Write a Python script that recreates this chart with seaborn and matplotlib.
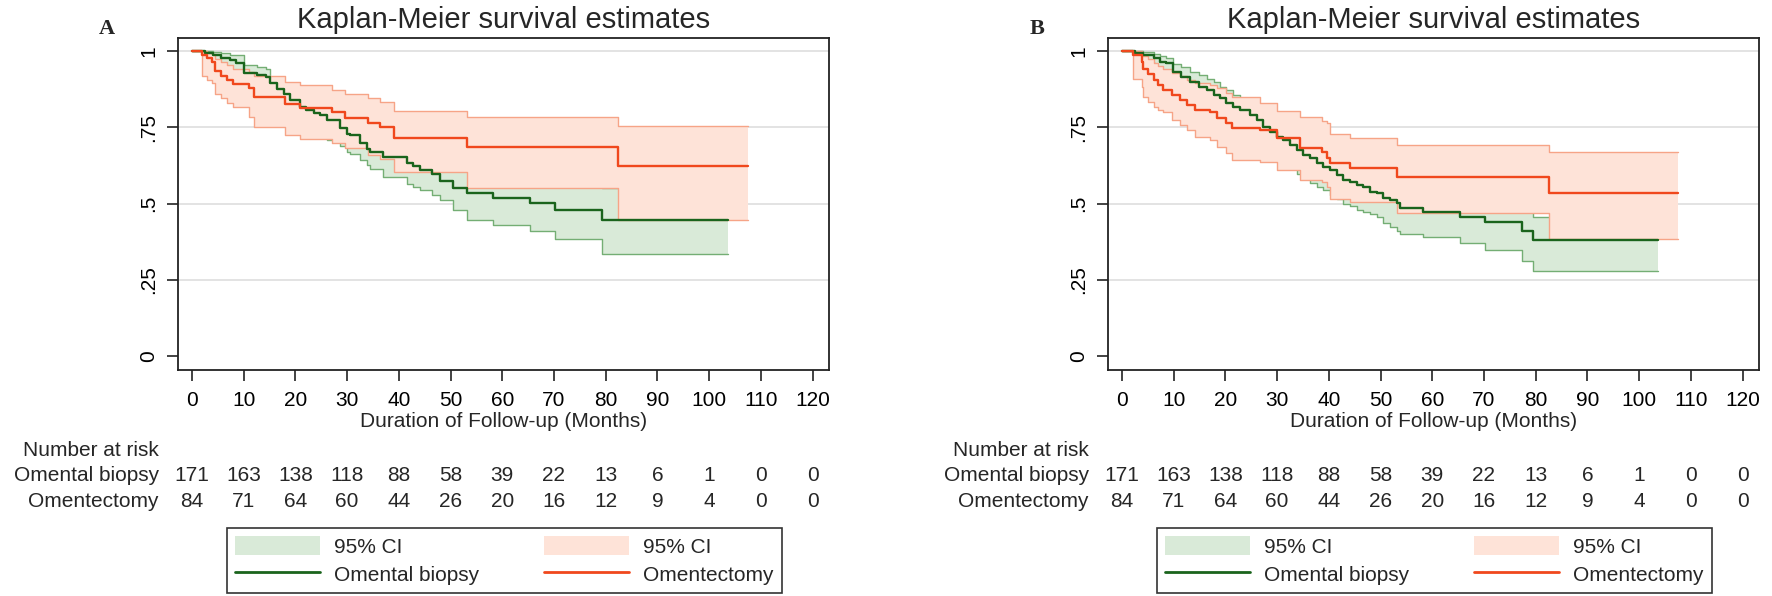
import numpy as np
import pandas as pd
import matplotlib
matplotlib.use('Agg')
import matplotlib.pyplot as plt
import matplotlib.transforms as mtransforms
from matplotlib.patches import Patch
from matplotlib.lines import Line2D
import seaborn as sns

sns.set_theme(style='white')
plt.rcParams['font.family'] = ['Liberation Sans', 'DejaVu Sans']

# ---- Panel A: Omental biopsy (KM estimate and 95% CI) ----
a_bio_t = [0, 2.5, 4.1, 5.7, 7.4, 8.5, 10.0, 12.5, 14.4, 15.1, 16.5, 17.7, 19.0, 20.9, 22.0, 23.5,
           24.8, 26.1, 28.6, 29.9, 30.6, 32.5, 33.8, 34.4, 37.0, 41.5, 42.8, 44.1, 46.4, 48.0, 50.5,
           53.1, 58.3, 65.3, 70.2, 79.3]
a_bio_s = [1.0, 0.994, 0.988, 0.979, 0.970, 0.962, 0.930, 0.922, 0.916, 0.894, 0.876, 0.861, 0.840,
           0.818, 0.807, 0.798, 0.790, 0.774, 0.747, 0.730, 0.725, 0.698, 0.680, 0.670, 0.654, 0.632,
           0.625, 0.612, 0.596, 0.575, 0.552, 0.534, 0.520, 0.501, 0.479, 0.445]
a_bio_lo = [1.0, 0.985, 0.965, 0.950, 0.935, 0.925, 0.885, 0.875, 0.868, 0.845, 0.825, 0.810, 0.787,
            0.765, 0.752, 0.742, 0.733, 0.708, 0.690, 0.670, 0.662, 0.642, 0.627, 0.615, 0.588, 0.565,
            0.556, 0.545, 0.530, 0.512, 0.480, 0.446, 0.430, 0.411, 0.383, 0.335]
a_bio_hi = [1.0, 1.0, 0.998, 0.993, 0.986, 0.986, 0.954, 0.948, 0.940, 0.916, 0.905, 0.895, 0.880,
            0.860, 0.850, 0.843, 0.836, 0.820, 0.800, 0.785, 0.780, 0.755, 0.740, 0.730, 0.715, 0.695,
            0.690, 0.678, 0.660, 0.640, 0.625, 0.610, 0.600, 0.585, 0.565, 0.553]
a_bio_end = 103.6

# ---- Panel A: Omentectomy ----
a_om_t = [0, 2.0, 3.0, 3.8, 4.4, 5.7, 6.7, 8.0, 11.0, 11.9, 18.0, 20.9, 27.0, 29.6, 34.0, 36.4, 39.0,
          53.1, 82.3]
a_om_s = [1.0, 0.988, 0.976, 0.964, 0.935, 0.920, 0.905, 0.891, 0.878, 0.850, 0.826, 0.815, 0.800,
          0.782, 0.766, 0.752, 0.716, 0.686, 0.623]
a_om_lo = [1.0, 0.920, 0.905, 0.894, 0.861, 0.845, 0.830, 0.818, 0.785, 0.750, 0.725, 0.711, 0.698,
           0.681, 0.659, 0.645, 0.603, 0.553, 0.446]
a_om_hi = [1.0, 1.0, 0.995, 0.990, 0.975, 0.965, 0.954, 0.943, 0.932, 0.918, 0.899, 0.889, 0.872,
           0.861, 0.845, 0.834, 0.804, 0.785, 0.755]
a_om_end = 107.5

# ---- Panel B: Omental biopsy ----
b_bio_t = [0, 2.5, 4.1, 6.1, 7.4, 8.5, 9.9, 11.5, 13.2, 14.8, 16.4, 17.7, 19.0, 20.2, 21.5, 22.8,
           24.8, 26.1, 27.3, 28.6, 29.9, 31.2, 32.5, 33.8, 35.1, 36.4, 37.7, 38.9, 40.2, 41.5, 42.8,
           44.1, 45.4, 46.7, 48.0, 49.3, 50.5, 51.8, 53.1, 53.8, 58.3, 65.3, 70.2, 77.3, 79.4]
b_bio_s = [1.0, 0.994, 0.987, 0.976, 0.965, 0.960, 0.932, 0.916, 0.899, 0.883, 0.872, 0.856, 0.845,
           0.829, 0.818, 0.807, 0.790, 0.774, 0.752, 0.736, 0.719, 0.709, 0.692, 0.676, 0.660, 0.649,
           0.632, 0.621, 0.610, 0.594, 0.578, 0.572, 0.561, 0.556, 0.540, 0.534, 0.518, 0.512, 0.501,
           0.485, 0.474, 0.457, 0.440, 0.411, 0.382]
b_bio_lo = [1.0, 0.985, 0.965, 0.945, 0.930, 0.925, 0.890, 0.870, 0.850, 0.835, 0.820, 0.800, 0.790,
            0.772, 0.760, 0.750, 0.730, 0.714, 0.690, 0.675, 0.657, 0.640, 0.620, 0.598, 0.580, 0.568,
            0.556, 0.545, 0.528, 0.515, 0.500, 0.493, 0.480, 0.474, 0.465, 0.455, 0.437, 0.425, 0.410,
            0.400, 0.390, 0.372, 0.347, 0.313, 0.279]
b_bio_hi = [1.0, 1.0, 0.997, 0.990, 0.985, 0.979, 0.957, 0.949, 0.932, 0.921, 0.910, 0.899, 0.883,
            0.872, 0.856, 0.840, 0.831, 0.818, 0.800, 0.785, 0.772, 0.763, 0.745, 0.730, 0.715, 0.705,
            0.690, 0.680, 0.668, 0.652, 0.637, 0.632, 0.620, 0.615, 0.600, 0.595, 0.580, 0.575, 0.565,
            0.550, 0.540, 0.525, 0.510, 0.480, 0.455]
b_bio_end = 103.6

# ---- Panel B: Omentectomy ----
b_om_t = [0, 2.2, 3.8, 4.1, 5.1, 6.1, 7.0, 8.0, 9.6, 11.2, 12.5, 14.1, 17.0, 18.3, 20.2, 21.2, 26.7,
          29.9, 34.4, 38.6, 39.6, 40.2, 44.1, 53.1, 82.5]
b_om_s = [1.0, 0.988, 0.965, 0.940, 0.925, 0.905, 0.889, 0.872, 0.856, 0.840, 0.823, 0.807, 0.800,
          0.780, 0.763, 0.747, 0.741, 0.714, 0.681, 0.670, 0.650, 0.632, 0.616, 0.589, 0.536]
b_om_lo = [1.0, 0.910, 0.883, 0.850, 0.834, 0.818, 0.808, 0.801, 0.774, 0.758, 0.741, 0.719, 0.709,
           0.687, 0.665, 0.643, 0.638, 0.610, 0.578, 0.572, 0.555, 0.515, 0.505, 0.468, 0.383]
b_om_hi = [1.0, 1.0, 0.995, 0.985, 0.975, 0.962, 0.952, 0.940, 0.930, 0.918, 0.905, 0.894, 0.890,
           0.878, 0.862, 0.850, 0.830, 0.805, 0.785, 0.772, 0.763, 0.730, 0.714, 0.692, 0.668]
b_om_end = 107.6

# ---- Number at risk table ----
risk_times = [0, 10, 20, 30, 40, 50, 60, 70, 80, 90, 100, 110, 120]
risk_biopsy = [171, 163, 138, 118, 88, 58, 39, 22, 13, 6, 1, 0, 0]
risk_omentectomy = [84, 71, 64, 60, 44, 26, 20, 16, 12, 9, 4, 0, 0]

group_names = ['Omental biopsy', 'Omentectomy']
y_ticks = [0, 0.25, 0.5, 0.75, 1]
y_tick_labels = ['0', '.25', '.5', '.75', '1']

GREEN_LINE = '#1a641c'
GREEN_FILL = '#d9ead8'
GREEN_EDGE = '#74ae74'
ORANGE_LINE = '#f0481d'
ORANGE_FILL = '#fee3d8'
ORANGE_EDGE = '#f6a487'
FS = 15

fig = plt.figure(figsize=(17.72, 5.96), dpi=100)


def draw_panel(left, letter, groups):
    ax = fig.add_axes([left, 0.3792, 0.3677, 0.557])

    # grid lines at the y ticks above zero
    for yv in y_ticks[1:]:
        ax.axhline(yv, color='#dedede', lw=1.2, zorder=0)

    # confidence bands first, omentectomy band drawn over biopsy band
    z = 2
    for g in groups:
        t = g['t'] + [g['end']]
        lo = g['lo'] + [g['lo'][-1]]
        hi = g['hi'] + [g['hi'][-1]]
        ax.fill_between(t, lo, hi, step='post', color=g['fill'], lw=0, zorder=z)
        ax.step(t, lo, where='post', color=g['edge'], lw=1.0, zorder=z + 0.1)
        ax.step(t, hi, where='post', color=g['edge'], lw=1.0, zorder=z + 0.1)
        z += 0.5

    # survival curves
    for g in groups:
        df = pd.DataFrame({'time': g['t'] + [g['end']], 'surv': g['s'] + [g['s'][-1]]})
        sns.lineplot(data=df, x='time', y='surv', drawstyle='steps-post', color=g['line'],
                     lw=1.7, estimator=None, sort=False, legend=False, ax=ax, zorder=4)

    ax.set_xlim(-2.8, 123.2)
    ax.set_ylim(-0.045, 1.043)
    ax.set_xticks(risk_times)
    ax.set_xticklabels([str(v) for v in risk_times], fontsize=FS)
    ax.set_yticks(y_ticks)
    ax.set_yticklabels(y_tick_labels, fontsize=FS, rotation=90, va='center')
    ax.tick_params(axis='both', bottom=True, left=True, direction='out', length=8, width=1.2,
                   color='#222222', labelcolor='black')
    ax.tick_params(axis='x', pad=7)
    ax.tick_params(axis='y', pad=6)
    for sp in ax.spines.values():
        sp.set_visible(True)
        sp.set_color('#222222')
        sp.set_linewidth(1.3)

    ax.set_ylabel('')
    ax.set_xlabel('Duration of Follow-up (Months)', fontsize=FS, va='baseline')
    ax.xaxis.set_label_coords(0.5, -0.173)

    ax.text(0.5, 1.029, 'Kaplan-Meier survival estimates', transform=ax.transAxes,
            ha='center', va='baseline', fontsize=21)

    # number at risk table
    trans = mtransforms.blended_transform_factory(ax.transData, ax.transAxes)
    ax.text(-6.4, -0.2605, 'Number at risk', transform=trans, ha='right', va='baseline',
            fontsize=FS, clip_on=False)
    for name, counts, yy in zip(group_names, [risk_biopsy, risk_omentectomy], [-0.3358, -0.4142]):
        ax.text(-6.4, yy, name, transform=trans, ha='right', va='baseline', fontsize=FS,
                clip_on=False)
        for tx, n in zip(risk_times, counts):
            ax.text(tx, yy, str(n), transform=trans, ha='center', va='baseline', fontsize=FS,
                    clip_on=False)

    # legend below the table
    handles = [Patch(facecolor=GREEN_FILL, edgecolor='none'),
               Line2D([], [], color=GREEN_LINE, lw=2),
               Patch(facecolor=ORANGE_FILL, edgecolor='none'),
               Line2D([], [], color=ORANGE_LINE, lw=2)]
    labels = ['95% CI', group_names[0], '95% CI', group_names[1]]
    box_left = left + (227 - 177.5) / 1772
    leg = ax.legend(handles, labels, ncol=2, mode='expand', loc='lower left',
                    bbox_to_anchor=(box_left, 0.005, 555 / 1772, 0.124),
                    bbox_transform=fig.transFigure, fontsize=FS, frameon=True,
                    fancybox=False, framealpha=1, edgecolor='#333333',
                    handlelength=4.05, handleheight=1.05, handletextpad=0.7,
                    labelspacing=0.35, borderpad=0.4, borderaxespad=0)
    leg.get_frame().set_linewidth(1.2)

    fig.text(left - (177.5 - 107) / 1772, 0.943, letter, ha='center', va='baseline',
             fontsize=16, fontweight='bold', family='Liberation Serif')
    return ax


groups_a = [
    dict(t=a_bio_t, s=a_bio_s, lo=a_bio_lo, hi=a_bio_hi, end=a_bio_end,
         line=GREEN_LINE, fill=GREEN_FILL, edge=GREEN_EDGE),
    dict(t=a_om_t, s=a_om_s, lo=a_om_lo, hi=a_om_hi, end=a_om_end,
         line=ORANGE_LINE, fill=ORANGE_FILL, edge=ORANGE_EDGE),
]
groups_b = [
    dict(t=b_bio_t, s=b_bio_s, lo=b_bio_lo, hi=b_bio_hi, end=b_bio_end,
         line=GREEN_LINE, fill=GREEN_FILL, edge=GREEN_EDGE),
    dict(t=b_om_t, s=b_om_s, lo=b_om_lo, hi=b_om_hi, end=b_om_end,
         line=ORANGE_LINE, fill=ORANGE_FILL, edge=ORANGE_EDGE),
]

draw_panel(177.5 / 1772, 'A', groups_a)
draw_panel(1107.5 / 1772, 'B', groups_b)

fig.savefig('out.png', dpi=100)
